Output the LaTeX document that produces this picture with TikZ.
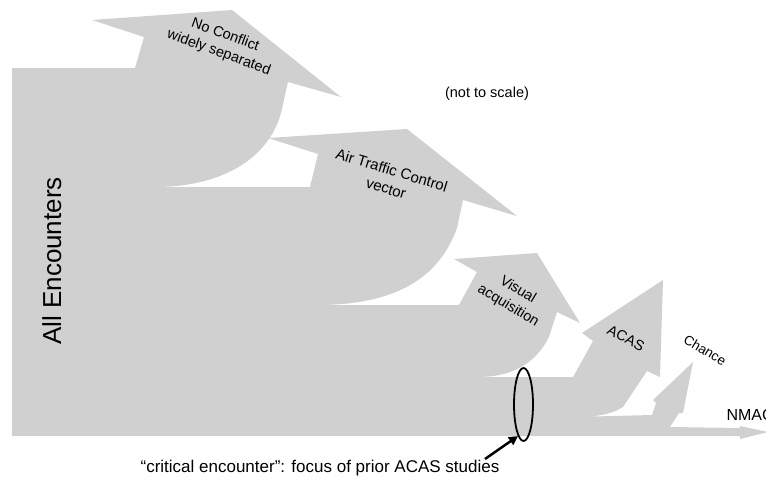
\documentclass[tikz,border=0pt]{standalone}
\usepackage{fontspec}
\setmainfont{Liberation Sans}
\usepackage{tikz}
\usetikzlibrary{shapes.geometric,arrows.meta}
\definecolor{flowgray}{RGB}{208,208,208}

\begin{document}
\begin{tikzpicture}[x=1pt,y=-1pt,
    lbl/.style={black, align=center, font=\fontsize{14.5}{18.5}\selectfont}]
        \useasboundingbox (0,0) rectangle (766,479);

        \fill[flowgray] (12,436) -- (12,68) -- (135,68)
            -- (144,37) -- (92,20) -- (232,10) -- (341,97) -- (288,82) -- (281,113)
            .. controls (268,160) and (220,187) .. (155,187) -- (310,187)
            -- (318,154) -- (268,138) -- (407,129) -- (517,216) -- (463,200) -- (457,228)
            .. controls (440,275) and (400,305) .. (317,305) -- (459,305)
            -- (477,272) -- (454,259) -- (537,253) -- (580,323) -- (557,312) -- (549,337)
            .. controls (535,365) and (510,377) .. (478,377) -- (573,377)
            -- (593,341) -- (582,333) -- (663,280) -- (660,377) -- (647,371) -- (623,407)
            .. controls (610,415) and (595,417) .. (573,417) -- (652,415)
            -- (656,403) -- (653,400) -- (693,362) -- (683,413) -- (679,413) -- (670,427)
            -- (740,428) -- (740,426) -- (768,432) -- (740,439) -- (740,436) -- cycle;

        \node[lbl, rotate=-20] (noconf) at (222,44) {No Conflict\\widely separated};
        \node[lbl, rotate=-17, font=\fontsize{15}{19}\selectfont] (atc) at (389,179) {Air Traffic Control\\vector};
        \node[lbl, rotate=-31] (visual) at (513,298) {Visual\\acquisition};
        \node[lbl, rotate=-28] (acas) at (626,338) {ACAS};
        \node[lbl, rotate=-31, font=\fontsize{13.5}{16}\selectfont] (chance) at (705,350) {Chance};
        \node[black, anchor=base west, font=\fontsize{16}{18}\selectfont] (nmac) at (723,420) {NMAC};

        \node[black, rotate=90, anchor=base, font=\fontsize{26}{30}\selectfont] (all) at (61,261) {All Encounters};
        \node[black, font=\fontsize{14.5}{17}\selectfont] (scale) at (487,94) {(not to scale)};
        \node[black, font=\fontsize{17}{20}\selectfont] (note) at (320,468) {“critical encounter”: focus of prior ACAS studies};

        \node[draw, ellipse, line width=1.8pt, minimum width=19pt, minimum height=73pt, inner sep=0pt] (crit) at (523.5,404.5) {};
        \coordinate (tail) at (485,459);
        \draw[black, line width=2.5pt, -{Triangle[length=9pt,width=9pt]}] (tail) -- (crit.260);
\end{tikzpicture}
\end{document}
